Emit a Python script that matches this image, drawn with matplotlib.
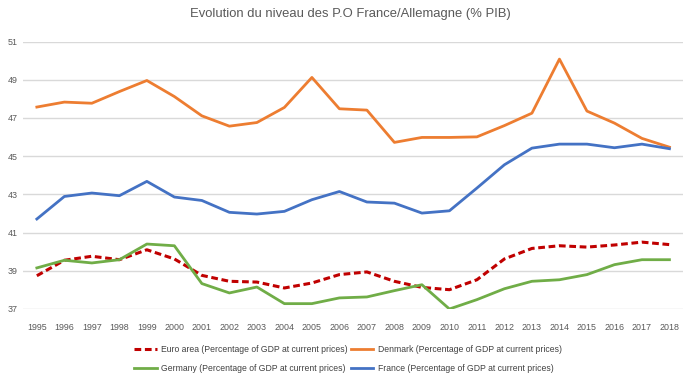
import matplotlib
matplotlib.use("Agg")
from matplotlib import pyplot as plt

years = list(range(1995, 2019))

euro_area = [38.74, 39.55, 39.76, 39.58, 40.10, 39.62, 38.76, 38.45, 38.41, 38.10,
             38.36, 38.80, 38.94, 38.45, 38.13, 38.01, 38.53, 39.62, 40.17, 40.31,
             40.24, 40.35, 40.50, 40.37]
denmark = [47.57, 47.83, 47.77, 48.38, 48.96, 48.12, 47.11, 46.57, 46.76, 47.55,
           49.12, 47.48, 47.41, 45.72, 45.98, 45.98, 46.01, 46.60, 47.25, 50.08,
           47.36, 46.73, 45.93, 45.47]
germany = [39.15, 39.55, 39.41, 39.58, 40.40, 40.31, 38.33, 37.84, 38.15, 37.28,
           37.28, 37.58, 37.63, 37.96, 38.27, 37.00, 37.49, 38.06, 38.45, 38.53,
           38.80, 39.32, 39.58, 39.58]
france = [41.71, 42.89, 43.07, 42.93, 43.68, 42.86, 42.68, 42.06, 41.97, 42.11,
          42.72, 43.15, 42.60, 42.54, 42.02, 42.14, 43.33, 44.55, 45.42, 45.63,
          45.63, 45.44, 45.63, 45.39]

suffix = " (Percentage of GDP at current prices)"
yticks = list(range(37, 52, 2))

plt.rcParams["font.family"] = ["Liberation Sans", "DejaVu Sans"]

fig = plt.figure(figsize=(7, 3.81), dpi=100, facecolor="w")
ax = fig.add_axes([0.033, 0.189, 0.943, 0.702])

l_euro, = ax.plot(years, euro_area, color="#C00000", lw=2.2, ls=(0, (2.2, 1.2)),
                  label="Euro area" + suffix)
l_den, = ax.plot(years, denmark, color="#ED7D31", lw=2, label="Denmark" + suffix)
l_ger, = ax.plot(years, germany, color="#70AD47", lw=2, label="Germany" + suffix)
l_fra, = ax.plot(years, france, color="#4472C4", lw=2, label="France" + suffix)

ax.set_xlim(1994.5, 2018.5)
ax.set_ylim(37, 51)
ax.set_yticks(yticks)
ax.set_xticks(years)
ax.set_xticklabels([str(y) for y in years])
ax.tick_params(axis="both", length=0, labelsize=6.4, colors="#595959")
ax.tick_params(axis="x", pad=10)
ax.tick_params(axis="y", pad=4)
ax.grid(axis="y", color="#d9d9d9", lw=1)
ax.set_axisbelow(True)
for s in ax.spines.values():
    s.set_visible(False)

fig.suptitle("Evolution du niveau des P.O France/Allemagne (% PIB)",
             y=0.978, fontsize=9.4, color="#595959")

fig.legend(handles=[l_euro, l_ger, l_den, l_fra], loc="center",
           bbox_to_anchor=(0.497, 0.058), ncol=2, frameon=False, fontsize=6.2,
           labelcolor="#404040", handlelength=2.6, handletextpad=0.5,
           columnspacing=0.4, labelspacing=1.25)

fig.savefig("out.png", dpi=100)
